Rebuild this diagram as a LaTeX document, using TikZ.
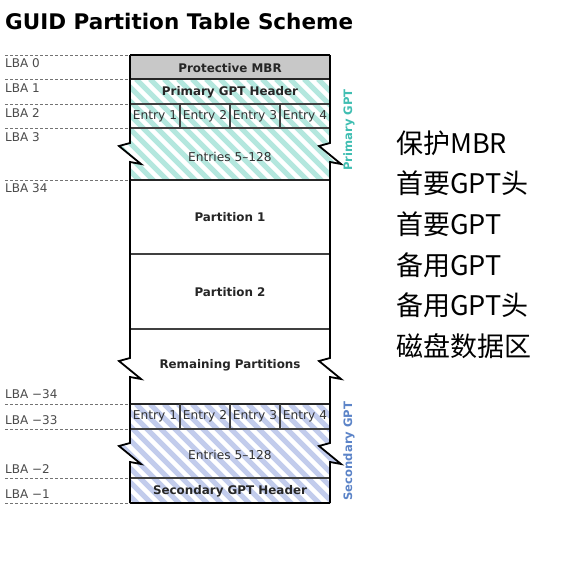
\documentclass[tikz,border=0pt]{standalone}
\usepackage{fontspec}
\setmainfont{DejaVu Sans}
\newfontfamily\cjk{Noto Sans CJK SC}
\usetikzlibrary{positioning}
\definecolor{PrimTeal}{RGB}{180,231,222}
\definecolor{PrimText}{RGB}{64,190,178}
\definecolor{SecBlue}{RGB}{194,204,236}
\definecolor{SecText}{RGB}{92,132,200}
\definecolor{MbrGray}{RGB}{200,200,200}
\definecolor{LbaGray}{RGB}{75,75,75}

\tikzset{
  frame/.style={line width=1.8pt, black},
  split/.style={line width=1.5pt, black!85},
  rule/.style={line width=1.2pt, black!75},
  lbaline/.style={dash pattern=on 3pt off 2pt, line width=0.9pt, black!55},
  lba/.style={anchor=west, inner sep=0pt, text=LbaGray, font=\fontsize{12}{14}\selectfont},
  boxlabel/.style={inner sep=0pt, text=black!85, font=\bfseries\fontsize{11.9}{14}\selectfont},
  entry/.style={inner sep=0pt, text=black!80, font=\fontsize{12.2}{14}\selectfont},
  side/.style={rotate=90, inner sep=0pt, font=\bfseries\fontsize{11.6}{14}\selectfont},
  stripe/.style={line width=5pt},
  cnlabel/.style={anchor=west, inner sep=0pt, font=\cjk\fontsize{27}{30}\selectfont},
}

\begin{document}
\begin{tikzpicture}[x=1pt, y=-1pt]
    \useasboundingbox (0,0) rectangle (582,574);
    \fill [white] (0,0) rectangle (582,574);

    % Title
    \node [anchor=base west, inner sep=0pt, font=\bfseries\fontsize{21.5}{24}\selectfont] (title) at (5,29) {GUID Partition Table Scheme};

    % Protective MBR
    \fill [MbrGray] (130,55) rectangle (330,79);

    % Primary GPT stripes
    \begin{scope}
        \clip (130,79) -- (330,79) -- (330,143) -- (319,146) -- (341,164) -- (330,162) -- (330,180)
              -- (130,180) -- (130,162) -- (141,164) -- (119,146) -- (130,143) -- cycle;
        \foreach \s in {10,24,...,346}
            \draw [stripe, PrimTeal] (\s,79) -- ++(102,102);
    \end{scope}

    % Secondary GPT stripes
    \begin{scope}
        \clip (130,404) -- (330,404) -- (330,443) -- (319,446) -- (341,464) -- (330,462) -- (330,503)
              -- (130,503) -- (130,462) -- (141,464) -- (119,446) -- (130,443) -- cycle;
        \foreach \s in {10,24,...,346}
            \draw [stripe, SecBlue] (\s,404) -- ++(100,100);
    \end{scope}

    % Dividers
    \foreach \y in {79,180,404}
        \draw [split] (130,\y) -- (330,\y);
    \foreach \y in {104,128,254,329,429,478}
        \draw [rule] (130,\y) -- (330,\y);
    \foreach \x in {180,230,280} {
        \draw [rule] (\x,104) -- (\x,128);
        \draw [rule] (\x,404) -- (\x,429);
    }

    % Frame with breaks
    \draw [frame] (130,55) -- (330,55);
    \draw [frame] (130,503) -- (330,503);
    \foreach \e in {130,330}
        \draw [frame, line join=miter]
            (\e,55) -- (\e,143) -- (\e-11,146) -- (\e+11,164) -- (\e,162)
            -- (\e,358) -- (\e-11,361) -- (\e+11,379) -- (\e,377)
            -- (\e,443) -- (\e-11,446) -- (\e+11,464) -- (\e,462) -- (\e,503);

    % LBA markers
    \foreach \y in {55,79,104,128,180,404,429,478,503}
        \draw [lbaline] (5,\y) -- (130,\y);
    \node [lba] (lba0) at (5,63) {LBA 0};
    \node [lba] (lba1) at (5,88) {LBA 1};
    \node [lba] (lba2) at (5,113) {LBA 2};
    \node [lba] (lba3) at (5,137) {LBA 3};
    \node [lba] (lba34) at (5,188) {LBA 34};
    \node [lba] (lbam34) at (5,394) {LBA −34};
    \node [lba] (lbam33) at (5,420) {LBA −33};
    \node [lba] (lbam2) at (5,469) {LBA −2};
    \node [lba] (lbam1) at (5,494) {LBA −1};

    % Box labels
    \node [boxlabel] (mbr) at (230,68) {Protective MBR};
    \node [boxlabel] (pHeader) at (230,92) {Primary GPT Header};
    \node [entry] (pRest) at (230,157) {Entries 5–128};
    \node [boxlabel] (part1) at (230,217) {Partition 1};
    \node [boxlabel] (part2) at (230,292) {Partition 2};
    \node [boxlabel] (remain) at (230,365) {Remaining Partitions};
    \node [entry] (sRest) at (230,455) {Entries 5–128};
    \node [boxlabel] (sHeader) at (230,491) {Secondary GPT Header};
    \foreach \i in {1,...,4} {
        \node [entry] (pE\i) at (105+50*\i,116) {Entry \i};
        \node [entry] (sE\i) at (105+50*\i,416) {Entry \i};
    }

    % Side labels
    \node [side, text=PrimText] (pGPT) at (349,130) {Primary GPT};
    \node [side, text=SecText] (sGPT) at (349,451) {Secondary GPT};

    % Chinese legend
    \foreach \t [count=\i] in {保护MBR,首要GPT头,首要GPT,备用GPT,备用GPT头,磁盘数据区}
        \node [cnlabel] (cn\i) at (396,{143+40.6*(\i-1)}) {\t};
\end{tikzpicture}
\end{document}
